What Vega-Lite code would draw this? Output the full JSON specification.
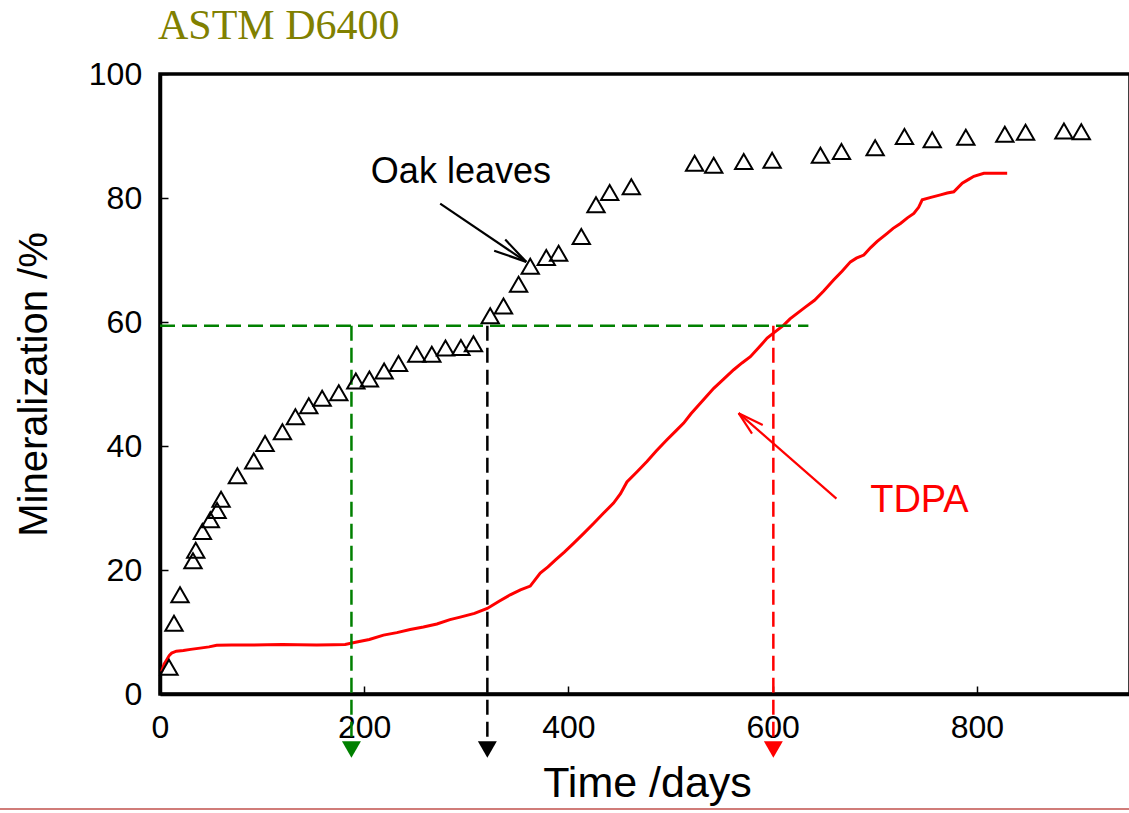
{
  "$schema": "https://vega.github.io/schema/vega-lite/v6.json",
  "width": 970,
  "height": 620,
  "autosize": "none",
  "padding": {"left": 160, "top": 74, "right": 0, "bottom": 119},
  "background": "white",
  "title": {"text": "ASTM D6400", "anchor": "start", "frame": "group", "font": "Liberation Serif", "fontSize": 42, "fontWeight": "normal", "color": "#808000", "baseline": "alphabetic", "offset": -23, "dx": -2},
  "config": {"view": {"stroke": "black", "strokeWidth": 3.5}},
  "datasets": {
    "oak": [
      {"x": 8.8, "y": 4.3}, {"x": 13.7, "y": 11.4}, {"x": 19.6, "y": 16.0}, {"x": 32.3, "y": 21.5}, {"x": 35, "y": 23.2},
      {"x": 41.5, "y": 26.2}, {"x": 49.3, "y": 28.1}, {"x": 55.9, "y": 29.6}, {"x": 59.8, "y": 31.4}, {"x": 75.8, "y": 35.2},
      {"x": 91.8, "y": 37.6}, {"x": 102.9, "y": 40.4}, {"x": 119.9, "y": 42.3}, {"x": 132.6, "y": 44.7}, {"x": 145.7, "y": 46.5},
      {"x": 158.8, "y": 47.7}, {"x": 175.1, "y": 48.6}, {"x": 191.8, "y": 50.5}, {"x": 205.1, "y": 50.8}, {"x": 219.5, "y": 52.1},
      {"x": 233.6, "y": 53.3}, {"x": 251.5, "y": 54.8}, {"x": 266.2, "y": 54.8}, {"x": 279.6, "y": 55.8}, {"x": 294.7, "y": 55.9},
      {"x": 307, "y": 56.5}, {"x": 323.4, "y": 61.0}, {"x": 336.4, "y": 62.6}, {"x": 351.2, "y": 66.1}, {"x": 362.6, "y": 69.0},
      {"x": 378.3, "y": 70.4}, {"x": 390.4, "y": 71.1}, {"x": 412.6, "y": 73.8}, {"x": 427, "y": 78.9}, {"x": 440.4, "y": 80.9},
      {"x": 461.6, "y": 81.8}, {"x": 523.6, "y": 85.6}, {"x": 542.3, "y": 85.3}, {"x": 571.7, "y": 85.9}, {"x": 599.5, "y": 86.1},
      {"x": 646.8, "y": 86.9}, {"x": 667.4, "y": 87.5}, {"x": 700.4, "y": 88.1}, {"x": 729.1, "y": 89.9}, {"x": 756.3, "y": 89.4},
      {"x": 789.2, "y": 89.8}, {"x": 827.4, "y": 90.3}, {"x": 847.7, "y": 90.6}, {"x": 885.3, "y": 90.8}, {"x": 902.3, "y": 90.7}
    ],
    "tdpa": [
      {"x": 1.6, "y": 3.6}, {"x": 4, "y": 4.8}, {"x": 6.5, "y": 5.5}, {"x": 9, "y": 6.2}, {"x": 11.4, "y": 6.6}, {"x": 16, "y": 6.9},
      {"x": 22.9, "y": 7.0}, {"x": 30, "y": 7.2}, {"x": 39.2, "y": 7.4}, {"x": 48, "y": 7.6}, {"x": 55.5, "y": 7.85}, {"x": 70, "y": 7.9},
      {"x": 88, "y": 7.9}, {"x": 105, "y": 7.95}, {"x": 120, "y": 8.0}, {"x": 135, "y": 7.95}, {"x": 153.5, "y": 7.9}, {"x": 170, "y": 7.95},
      {"x": 181.3, "y": 8.0}, {"x": 192.7, "y": 8.4}, {"x": 205, "y": 8.8}, {"x": 218.9, "y": 9.5}, {"x": 232, "y": 9.9}, {"x": 245, "y": 10.4},
      {"x": 258, "y": 10.8}, {"x": 271.2, "y": 11.3}, {"x": 284, "y": 12.0}, {"x": 294, "y": 12.4}, {"x": 308, "y": 13.0}, {"x": 320.5, "y": 13.8},
      {"x": 332.5, "y": 15.0}, {"x": 343, "y": 16.0}, {"x": 353, "y": 16.8}, {"x": 362.6, "y": 17.4}, {"x": 372.4, "y": 19.5}, {"x": 380, "y": 20.5},
      {"x": 387.1, "y": 21.6}, {"x": 396, "y": 22.9}, {"x": 405, "y": 24.3}, {"x": 415, "y": 25.9}, {"x": 424.6, "y": 27.5}, {"x": 434, "y": 29.1},
      {"x": 444.2, "y": 30.8}, {"x": 451, "y": 32.3}, {"x": 457.3, "y": 34.2}, {"x": 467, "y": 35.8}, {"x": 476.9, "y": 37.5}, {"x": 486, "y": 39.2},
      {"x": 496.5, "y": 41.0}, {"x": 505, "y": 42.4}, {"x": 512.9, "y": 43.7}, {"x": 520, "y": 45.2}, {"x": 525.9, "y": 46.3}, {"x": 534, "y": 47.8},
      {"x": 542.3, "y": 49.3}, {"x": 552, "y": 50.8}, {"x": 561.9, "y": 52.3}, {"x": 570, "y": 53.4}, {"x": 578.2, "y": 54.4}, {"x": 586, "y": 55.8},
      {"x": 594.6, "y": 57.4}, {"x": 603, "y": 58.5}, {"x": 610.9, "y": 59.5}, {"x": 617, "y": 60.5}, {"x": 624, "y": 61.4}, {"x": 632, "y": 62.4},
      {"x": 641, "y": 63.5}, {"x": 650, "y": 65.0}, {"x": 659.9, "y": 66.8}, {"x": 668, "y": 68.2}, {"x": 676.2, "y": 69.7}, {"x": 682, "y": 70.3},
      {"x": 689.3, "y": 70.8}, {"x": 696, "y": 72.0}, {"x": 702.4, "y": 73.0}, {"x": 712.2, "y": 74.3}, {"x": 718, "y": 75.1}, {"x": 725.2, "y": 75.9},
      {"x": 732, "y": 76.8}, {"x": 738.3, "y": 77.5}, {"x": 743, "y": 78.5}, {"x": 746.5, "y": 79.7}, {"x": 755, "y": 80.1}, {"x": 764.4, "y": 80.5},
      {"x": 771, "y": 80.8}, {"x": 777.4, "y": 81.0}, {"x": 785.7, "y": 82.4}, {"x": 792, "y": 83.0}, {"x": 797.1, "y": 83.5}, {"x": 806.9, "y": 84.0},
      {"x": 829.7, "y": 84.0}
    ],
    "guides": [
      {"x": 0, "x2": 635, "y": 59.4, "y2": 59.4, "s": "ref"},
      {"x": 187.5, "x2": 187.5, "y": 59.4, "y2": -7.7, "s": "ref"},
      {"x": 320.6, "x2": 320.6, "y": 59.4, "y2": -7.7, "s": "oak"},
      {"x": 600.7, "x2": 600.7, "y": 59.4, "y2": -7.7, "s": "tdpa"}
    ],
    "heads": [
      {"x": 187.5, "y": -8.95, "s": "ref"},
      {"x": 320.6, "y": -8.95, "s": "oak"},
      {"x": 600.7, "y": -8.95, "s": "tdpa"}
    ],
    "arrows": [
      {"x": 274.4, "y": 79.1, "x2": 358.7, "y2": 69.7, "s": "oak"},
      {"x": 338.1, "y": 73.3, "x2": 358.7, "y2": 69.7, "s": "oak"},
      {"x": 327.3, "y": 71.5, "x2": 358.7, "y2": 69.7, "s": "oak"},
      {"x": 662.5, "y": 31.5, "x2": 566.7, "y2": 45.3, "s": "tdpa"},
      {"x": 590.3, "y": 43.4, "x2": 566.7, "y2": 45.3, "s": "tdpa"},
      {"x": 579.8, "y": 42.0, "x2": 566.7, "y2": 45.3, "s": "tdpa"}
    ],
    "labels": [
      {"x": 294.7, "y": 82.4, "label": "Oak leaves", "s": "oak"},
      {"x": 743.8, "y": 29.4, "label": "TDPA", "s": "tdpa"}
    ],
    "border": [
      {"x": -157, "x2": 950, "y": -18.55, "y2": -18.55}
    ]
  },
  "encoding": {
    "x": {"field": "x", "type": "quantitative", "scale": {"domain": [0, 950], "nice": false, "zero": false},
      "axis": {"title": "Time /days", "values": [0, 200, 400, 600, 800], "grid": false, "tickSize": -8, "tickWidth": 1.5, "tickColor": "black",
        "domainColor": "black", "domainWidth": 3.5, "labelFont": "Liberation Sans", "labelFontSize": 32, "labelColor": "black",
        "labelBaseline": "alphabetic", "labelPadding": 51, "labelFlush": false, "labelOverlap": false,
        "titleFont": "Liberation Sans", "titleFontSize": 43, "titleFontWeight": "normal", "titleColor": "black",
        "titleX": 487, "titleY": 102.7, "titleBaseline": "alphabetic", "titleAlign": "center"}},
    "y": {"field": "y", "type": "quantitative", "scale": {"domain": [0, 100], "nice": false},
      "axis": {"title": "Mineralization /%", "values": [0, 20, 40, 60, 80, 100], "grid": false, "tickSize": -8, "tickWidth": 1.5, "tickColor": "black",
        "domainColor": "black", "domainWidth": 3.5, "labelFont": "Liberation Sans", "labelFontSize": 32, "labelColor": "black",
        "labelBaseline": "middle", "labelPadding": 26.3, "labelFlush": false, "labelOverlap": false,
        "titleFont": "Liberation Sans", "titleFontSize": 40, "titleFontWeight": "normal", "titleColor": "black",
        "titleAngle": -90, "titleX": -113.3, "titleY": 310, "titleBaseline": "alphabetic", "titleAlign": "center"}}
  },
  "layer": [
    {
      "data": {"name": "border"},
      "mark": {"type": "rule", "strokeWidth": 1.5, "color": "#c0504d", "clip": false},
      "encoding": {"x2": {"field": "x2"}, "y2": {"field": "y2"}}
    },
    {
      "data": {"name": "tdpa"},
      "mark": {"type": "line", "color": "#ff0000", "strokeWidth": 3}
    },
    {
      "data": {"name": "guides"},
      "mark": {"type": "rule", "strokeWidth": 2.5, "strokeDash": [15, 7]},
      "encoding": {
        "x2": {"field": "x2"},
        "y2": {"field": "y2"},
        "color": {"field": "s", "type": "nominal", "scale": {"domain": ["ref", "oak", "tdpa"], "range": ["#008000", "#000000", "#ff0000"]}, "legend": null}
      }
    },
    {
      "data": {"name": "heads"},
      "mark": {"type": "point", "shape": "triangle-down", "filled": true, "size": 360, "opacity": 1},
      "encoding": {
        "color": {"field": "s", "type": "nominal", "scale": {"domain": ["ref", "oak", "tdpa"], "range": ["#008000", "#000000", "#ff0000"]}, "legend": null}
      }
    },
    {
      "data": {"name": "oak"},
      "mark": {"type": "point", "shape": "triangle-up", "filled": false, "color": "black", "strokeWidth": 2, "size": 300, "opacity": 1}
    },
    {
      "data": {"name": "arrows"},
      "mark": {"type": "rule", "strokeWidth": 2.2},
      "encoding": {
        "x2": {"field": "x2"},
        "y2": {"field": "y2"},
        "color": {"field": "s", "type": "nominal", "scale": {"domain": ["ref", "oak", "tdpa"], "range": ["#008000", "#000000", "#ff0000"]}, "legend": null}
      }
    },
    {
      "data": {"name": "labels"},
      "transform": [{"filter": "datum.s === 'oak'"}],
      "mark": {"type": "text", "font": "Liberation Sans", "fontSize": 36, "align": "center", "baseline": "alphabetic"},
      "encoding": {
        "text": {"field": "label"},
        "color": {"field": "s", "type": "nominal", "scale": {"domain": ["ref", "oak", "tdpa"], "range": ["#008000", "#000000", "#ff0000"]}, "legend": null}
      }
    },
    {
      "data": {"name": "labels"},
      "transform": [{"filter": "datum.s === 'tdpa'"}],
      "mark": {"type": "text", "font": "Liberation Sans", "fontSize": 38, "align": "center", "baseline": "alphabetic"},
      "encoding": {
        "text": {"field": "label"},
        "color": {"field": "s", "type": "nominal", "scale": {"domain": ["ref", "oak", "tdpa"], "range": ["#008000", "#000000", "#ff0000"]}, "legend": null}
      }
    }
  ]
}
